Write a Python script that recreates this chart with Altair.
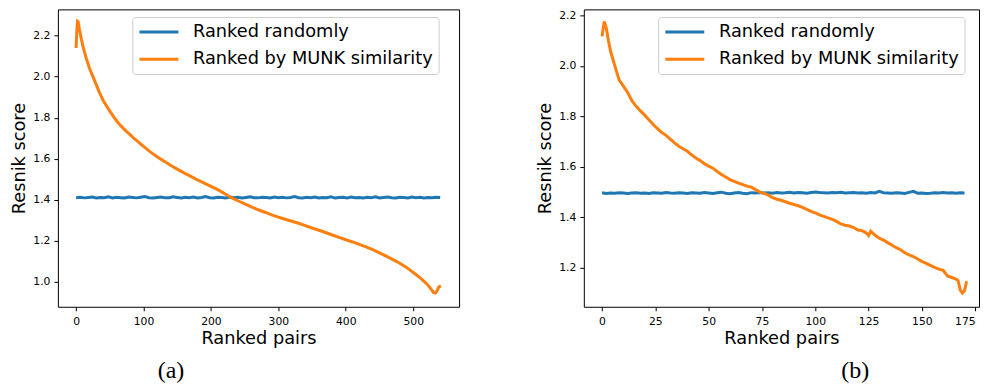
import altair as alt
import pandas as pd

SERIES = ["Ranked randomly", "Ranked by MUNK similarity"]
COLORS = ["#1f77b4", "#ff7f0e"]

# ---------------- panel (a) ----------------
a_rand_x = list(range(0, 541, 6))
a_rand_y = [1.410, 1.412, 1.409, 1.411, 1.413, 1.408, 1.411, 1.410, 1.414, 1.409,
            1.412, 1.410, 1.408, 1.413, 1.411, 1.409, 1.412, 1.415, 1.410, 1.408,
            1.411, 1.413, 1.409, 1.410, 1.414, 1.411, 1.408, 1.412, 1.410, 1.413,
            1.409, 1.411, 1.415, 1.410, 1.408, 1.412, 1.411, 1.409, 1.413, 1.410,
            1.412, 1.408, 1.411, 1.414, 1.410, 1.409, 1.412, 1.411, 1.408, 1.413,
            1.410, 1.412, 1.409, 1.411, 1.415, 1.410, 1.408, 1.412, 1.410, 1.413,
            1.409, 1.411, 1.410, 1.414, 1.408, 1.411, 1.412, 1.409, 1.413, 1.410,
            1.411, 1.408, 1.412, 1.410, 1.414, 1.409, 1.411, 1.413, 1.410, 1.408,
            1.412, 1.411, 1.409, 1.413, 1.410, 1.412, 1.408, 1.411, 1.410, 1.412, 1.411]

a_munk_x = [0, 1, 2, 3, 5, 8, 10, 15, 20, 25, 30, 35, 40, 45, 50, 55, 60, 65, 70, 75,
            80, 85, 90, 95, 100, 110, 120, 130, 140, 150, 160, 170, 180, 190, 200,
            210, 220, 230, 240, 250, 260, 270, 280, 290, 300, 310, 320, 330, 340,
            350, 360, 370, 380, 390, 400, 410, 420, 430, 440, 450, 460, 470, 480,
            490, 500, 510, 520, 525, 530, 533, 536, 538, 541]
a_munk_y = [2.140, 2.220, 2.270, 2.268, 2.230, 2.180, 2.150, 2.090, 2.040, 2.000,
            1.960, 1.920, 1.885, 1.858, 1.832, 1.808, 1.785, 1.765, 1.748, 1.732,
            1.717, 1.702, 1.688, 1.674, 1.660, 1.633, 1.610, 1.589, 1.568, 1.549,
            1.531, 1.514, 1.497, 1.481, 1.465, 1.449, 1.430, 1.410, 1.395, 1.380,
            1.365, 1.351, 1.339, 1.326, 1.315, 1.305, 1.295, 1.285, 1.274, 1.262,
            1.251, 1.240, 1.228, 1.216, 1.205, 1.194, 1.182, 1.170, 1.157, 1.141,
            1.125, 1.108, 1.090, 1.070, 1.045, 1.020, 0.990, 0.970, 0.948, 0.945,
            0.960, 0.975, 0.980]

a_xticks = [0, 100, 200, 300, 400, 500]
a_yticks = [1.0, 1.2, 1.4, 1.6, 1.8, 2.0, 2.2]

# ---------------- panel (b) ----------------
b_rand_x = list(range(0, 171, 2))
b_rand_y = [1.498, 1.495, 1.497, 1.496, 1.498, 1.497, 1.495, 1.497, 1.498, 1.496,
            1.497, 1.495, 1.498, 1.497, 1.496, 1.499, 1.497, 1.496, 1.498, 1.497,
            1.495, 1.498, 1.497, 1.496, 1.499, 1.497, 1.495, 1.498, 1.500, 1.496,
            1.494, 1.497, 1.499, 1.496, 1.494, 1.498, 1.497, 1.499, 1.497, 1.498,
            1.496, 1.499, 1.497, 1.498, 1.500, 1.497, 1.499, 1.498, 1.496, 1.499,
            1.501, 1.499, 1.498, 1.497, 1.499, 1.498, 1.500, 1.497, 1.498, 1.499,
            1.497, 1.498, 1.496, 1.499, 1.497, 1.503, 1.498, 1.497, 1.496, 1.498,
            1.497, 1.495, 1.499, 1.503, 1.496, 1.497, 1.495, 1.496, 1.498, 1.497,
            1.499, 1.497, 1.498, 1.496, 1.498, 1.497]

b_munk_x = [0, 1, 2, 3, 4, 6, 8, 10, 12, 14, 16, 18, 20, 22, 24, 26, 28, 30, 32, 34,
            36, 38, 40, 42, 44, 46, 48, 50, 52, 54, 56, 58, 60, 62, 64, 66, 68, 70,
            72, 74, 76, 78, 80, 82, 84, 86, 88, 90, 92, 94, 96, 98, 100, 102, 104,
            106, 108, 110, 112, 114, 116, 118, 120, 122, 124, 125, 126, 128, 130,
            132, 134, 136, 138, 140, 142, 144, 146, 148, 150, 152, 154, 156, 158,
            160, 162, 164, 166, 167, 168, 169, 170, 171]
b_munk_y = [2.117, 2.176, 2.150, 2.100, 2.058, 2.000, 1.945, 1.920, 1.895, 1.862,
            1.840, 1.822, 1.805, 1.787, 1.768, 1.752, 1.736, 1.725, 1.710, 1.695,
            1.682, 1.672, 1.662, 1.648, 1.635, 1.625, 1.613, 1.603, 1.595, 1.582,
            1.570, 1.560, 1.550, 1.543, 1.536, 1.530, 1.524, 1.520, 1.510, 1.500,
            1.495, 1.488, 1.478, 1.472, 1.468, 1.462, 1.456, 1.451, 1.446, 1.440,
            1.432, 1.424, 1.418, 1.410, 1.404, 1.398, 1.392, 1.384, 1.374, 1.369,
            1.366, 1.360, 1.350, 1.347, 1.338, 1.328, 1.345, 1.330, 1.318, 1.310,
            1.300, 1.290, 1.280, 1.272, 1.260, 1.252, 1.245, 1.235, 1.226, 1.218,
            1.210, 1.202, 1.195, 1.190, 1.168, 1.162, 1.156, 1.150, 1.112, 1.100,
            1.110, 1.147]

b_xticks = [0, 25, 50, 75, 100, 125, 150, 175]
b_yticks = [1.2, 1.4, 1.6, 1.8, 2.0, 2.2]


def panel(rx, ry, mx, my, xdom, ydom, xticks, yticks, width, caption, cap_dx):
    df = pd.DataFrame({
        "rank": rx + mx,
        "score": ry + my,
        "series": [SERIES[0]] * len(rx) + [SERIES[1]] * len(mx),
    })
    return alt.Chart(
        df,
        title=alt.Title(caption, orient="bottom", anchor="start", frame="group",
                        dx=cap_dx, offset=12, font="Liberation Serif",
                        fontSize=24, fontWeight="normal", color="black"),
    ).mark_line(strokeWidth=3, clip=True).encode(
        x=alt.X("rank:Q",
                scale=alt.Scale(domain=xdom, nice=False, zero=False),
                axis=alt.Axis(values=xticks, title="Ranked pairs", format="d",
                              labelFlush=6)),
        y=alt.Y("score:Q",
                scale=alt.Scale(domain=ydom, nice=False, zero=False),
                axis=alt.Axis(values=yticks, title="Resnik score", format=".1f")),
        color=alt.Color("series:N",
                        scale=alt.Scale(domain=SERIES, range=COLORS),
                        legend=alt.Legend(title=None, orient="none",
                                          legendX=74.5, legendY=7.7)),
    ).properties(width=width, height=298)


pa = panel(a_rand_x, a_rand_y, a_munk_x, a_munk_y,
           [-27, 568], [0.878, 2.328], a_xticks, a_yticks, 402, "(a)", 100)
pb = panel(b_rand_x, b_rand_y, b_munk_x, b_munk_y,
           [-8.55, 176.8], [1.046, 2.224], b_xticks, b_yticks, 396, "(b)", 258)

chart = alt.hconcat(pa, pb, spacing=76).resolve_scale(
    color="independent"
).resolve_legend(color="independent").properties(
    padding={"left": 2, "top": 0, "right": 0, "bottom": -1}
).configure_view(
    stroke="black", strokeWidth=1
).configure_axis(
    domain=False, grid=False,
    tickColor="black", tickSize=4, tickWidth=1,
    labelFont="DejaVu Sans", labelFontSize=10.8, labelColor="black",
    titleFont="DejaVu Sans", titleFontSize=17.8, titleFontWeight="normal",
    titleColor="black",
).configure_axisX(
    labelPadding=5, titlePadding=3,
).configure_axisY(
    labelPadding=4, titlePadding=4,
).configure_legend(
    symbolType="M-1,0H4", symbolSize=243.4, symbolStrokeWidth=3,
    labelFont="DejaVu Sans", labelFontSize=17.8, labelColor="black",
    labelOffset=36.4, rowPadding=8.2, padding=5.5,
    fillColor="rgba(255,255,255,0.8)", strokeColor="#cccccc",
    cornerRadius=3, labelLimit=400,
)

chart.save("out.html", embed_options={"renderer": "svg", "actions": False})
